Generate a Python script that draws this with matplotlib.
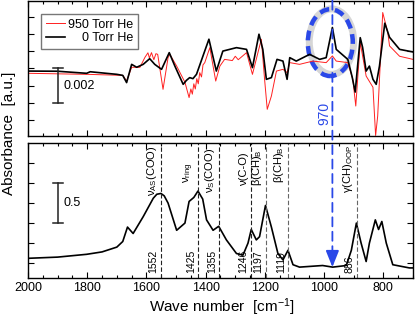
import matplotlib
matplotlib.use('Agg')
import matplotlib.pyplot as plt
from matplotlib.patches import Ellipse, ConnectionPatch
from matplotlib.ticker import MultipleLocator, FixedLocator

# top panel: difference spectra (units of 1e-3 absorbance)
wn_black = [2000, 1900, 1802, 1790, 1700, 1680, 1667, 1650, 1633, 1611, 1589, 1572,
            1549, 1523, 1504, 1476, 1465, 1454, 1443, 1431, 1409, 1389, 1364, 1342,
            1296, 1262, 1242, 1220, 1207, 1195, 1178, 1159, 1139, 1125, 1116, 1094,
            1049, 1015, 993, 972, 959, 920, 905, 895, 878, 870, 858, 847, 835, 824,
            813, 795, 779, 745, 700]
ab_black = [-0.16, -0.17, -0.29, -0.2, -0.35, -0.41, -0.83, 0.23, 0.06, 0.23, 0.56, 0.23,
            -0.06, 0.91, 0.13, -0.93, -0.7, -0.54, -0.6, -0.35, 0.72, 1.69, -0.16, 1.0,
            1.2, 1.1, 0.04, 1.98, 1.1, -0.64, -0.54, 0.52, 0.42, -0.64, 0.62, 0.42,
            0.81, 0.52, 0.62, 2.37, 1.1, 0.52, -0.52, -1.38, 1.78, 1.22, -0.16, 0.13, -0.64, -0.93,
            0.13, 2.62, 1.8, 1.1, 0.95]

wn_red = [2000, 1900, 1800, 1680, 1667, 1650, 1622, 1605, 1595, 1590, 1583, 1575, 1568,
          1562, 1544, 1527, 1521, 1498, 1470, 1456, 1450, 1445, 1440, 1435, 1430, 1425,
          1420, 1414, 1409, 1403, 1386, 1366, 1352, 1336, 1310, 1300, 1290, 1262, 1242,
          1212, 1201, 1192, 1178, 1161, 1139, 1125, 1116, 1083, 1038, 993, 972, 959,
          920, 903, 893, 878, 858, 835, 826, 819, 802, 785, 779, 745, 700]
ab_red = [-0.29, -0.32, -0.35, -0.41, -0.74, 0.06, 0.06, 0.64, 0.9, 0.6, 0.91, 0.5, 0.85,
          0.81, -1.22, 0.62, 0.81, 0.13, -0.81, -1.7, -1.2, -1.5, -0.9, -1.2, -0.6, -0.9,
          -0.25, -0.5, 0.2, 0.33, 1.2, -0.74, 0.13, 0.52, 0.45, 0.7, 0.5, 0.91, -0.35,
          1.69, -0.64, -2.38, -1.61, -0.16, -0.06, -0.25, 0.33, 0.23, 0.42, 0.33, 0.72, 0.42,
          0.33, -0.64, -2.19, 1.5, -0.45, -1.1, -3.9, -2.77, 3.24, 2.09, 1.3, 0.7, 0.52]

# bottom panel: absorbance spectrum
wn_abs = [2000, 1900, 1802, 1750, 1700, 1680, 1664, 1645, 1611, 1577, 1565, 1551, 1540,
          1527, 1498, 1470, 1456, 1440, 1426, 1410, 1397, 1375, 1356, 1330, 1296, 1274,
          1257, 1246, 1229, 1218, 1198, 1178, 1156, 1139, 1122, 1105, 1083, 1005, 971,
          925, 908, 891, 875, 858, 847, 827, 816, 805, 790, 768, 712, 700]
ab_abs = [0.06, 0.075, 0.11, 0.14, 0.2, 0.27, 0.45, 0.37, 0.58, 0.81, 0.86, 0.87, 0.84,
          0.75, 0.41, 0.5, 0.77, 0.82, 0.9, 0.8, 0.54, 0.41, 0.46, 0.29, 0.12, 0.1,
          0.25, 0.42, 0.29, 0.33, 0.72, 0.45, 0.12, 0.04, 0.16, -0.02, -0.05, -0.03, -0.05,
          -0.03, 0.16, 0.5, 0.25, 0.02, 0.25, 0.54, 0.42, 0.52, 0.25, -0.02, -0.06, -0.06]

peak_pos = [1552, 1425, 1355, 1248, 1197, 1121, 889]
peak_txt = ['1552', '1425', '1355', '1246', '1197', '1119', '886']
peak_col = ['#222222', '#222222', '#222222', '#222222', '#666666', '#666666', '#666666']
mode_txt = ['ν$_\\mathregular{AS}$(COO)', 'ν$_\\mathregular{ring}$', 'ν$_\\mathregular{S}$(COO)',
            'ν(C-O)', 'β(CH)$_\\mathregular{B}$', 'β(CH)$_\\mathregular{B}$',
            'γ(CH)$_\\mathregular{OOP}$']
mode_y = [0.606, 0.70, 0.63, 0.68, 0.68, 0.70, 0.63]

plt.rcParams['font.family'] = ['Liberation Sans', 'DejaVu Sans']
plt.rcParams['mathtext.fontset'] = 'custom'
plt.rcParams['mathtext.rm'] = 'Liberation Sans'
plt.rcParams['mathtext.it'] = 'Liberation Sans:italic'

blue = '#2a48e8'
fig = plt.figure(figsize=(4.15, 3.19), dpi=100)
ax1 = fig.add_axes([0.0675, 0.5737, 0.9275, 0.4243])
ax2 = fig.add_axes([0.0675, 0.130, 0.9275, 0.4217])

ax1.plot(wn_red, ab_red, color='#ff2020', lw=0.7, label='950 Torr He')
ax1.plot(wn_black, ab_black, color='black', lw=1.2, label='0 Torr He')
ax2.plot(wn_abs, ab_abs, color='black', lw=1.2)

for ax in (ax1, ax2):
    ax.set_xlim(2000, 700)
    ax.xaxis.set_major_locator(MultipleLocator(200))
    ax.xaxis.set_minor_locator(MultipleLocator(50))
    ax.tick_params(which='both', direction='in', top=True, right=True, labelleft=False)
    ax.tick_params(which='major', length=4.5, width=0.8)
    ax.tick_params(which='minor', length=2.5, width=0.8)
    for s in ax.spines.values():
        s.set_linewidth(1.0)

ax1.set_ylim(-3.93, 3.93)
ax1.yaxis.set_major_locator(FixedLocator([-3, -2, -1, 0, 1, 2, 3]))
ax1.tick_params(labelbottom=False)
ax2.set_ylim(-0.18, 1.5)
ax2.yaxis.set_major_locator(FixedLocator([0, 0.25, 0.5, 0.75, 1.0, 1.25]))
ax2.tick_params(labelsize=9)

# scale bars
ax1.plot([1899, 1899], [0, -2], color='#222222', lw=1.1)
ax1.plot([1916, 1882], [0, 0], color='#222222', lw=1.1)
ax1.plot([1916, 1882], [-2, -2], color='#222222', lw=1.1)
ax1.text(1879, -1, '0.002', fontsize=9, va='center', ha='left')
ax2.plot([1899, 1899], [0.5, 1.0], color='#222222', lw=1.1)
ax2.plot([1916, 1882], [0.5, 0.5], color='#222222', lw=1.1)
ax2.plot([1916, 1882], [1.0, 1.0], color='#222222', lw=1.1)
ax2.text(1879, 0.75, '0.5', fontsize=9, va='center', ha='left')

leg = ax1.legend(loc='upper left', bbox_to_anchor=(0.035, 0.9), fontsize=9,
                 fancybox=False, edgecolor='#777777', framealpha=1, borderaxespad=0,
                 handlelength=1.5, handletextpad=0.3, borderpad=0.35, labelspacing=0.15)
leg.get_frame().set_linewidth(1.0)
fig.canvas.draw()
r = fig.canvas.get_renderer()
widths = [t.get_window_extent(r).width for t in leg.get_texts()]
for t, wi in zip(leg.get_texts(), widths):
    t.set_position((max(widths) - wi, 0))

# highlight at 970
ax1.add_patch(Ellipse((975, 1.55), 150, 3.8, fill=False, ec='#bbbbbb', lw=5, alpha=0.6))
ax1.add_patch(Ellipse((979, 1.49), 152, 3.88, fill=False, ec=blue, lw=3.2,
                      linestyle=(0, (2.2, 1.3))))
ax1.text(998, -2.6, '970', color=blue, fontsize=10, rotation=90, ha='center', va='center')
con = ConnectionPatch(xyA=(972, 3.93), coordsA=ax1.transData, xyB=(972, 0.12),
                      coordsB=ax2.transData, color=blue, lw=1.3, linestyle=(0, (5, 3)))
fig.add_artist(con)
ax2.annotate('', xy=(972, -0.05), xytext=(972, 0.14),
             arrowprops=dict(arrowstyle='-|>,head_length=1.0,head_width=0.4',
                             color=blue, lw=1.3, shrinkA=0, shrinkB=0))

# peak markers
for p, t, c, m, my in zip(peak_pos, peak_txt, peak_col, mode_txt, mode_y):
    ax2.axvline(p, color=c, lw=0.8, linestyle=(0, (4, 2)))
    ax2.annotate(t, xy=(p, 0), xycoords=('data', 'axes fraction'), xytext=(-1.5, 3),
                 textcoords='offset points', rotation=90, ha='right', va='bottom', fontsize=7.5)
    ax2.annotate(m, xy=(p, my), xycoords=('data', 'axes fraction'), xytext=(-1.5, 0),
                 textcoords='offset points', rotation=90, ha='right', va='bottom', fontsize=8,
                 annotation_clip=False)

ax2.set_xticks([2000, 1800, 1600, 1400, 1200, 1000, 800])
fig.text(0.534, 0.036, 'Wave number  [cm$^{-1}$]', fontsize=11, ha='center', va='center')
fig.text(0.022, 0.583, 'Absorbance  [a.u.]', fontsize=11, rotation=90, ha='center', va='center')

fig.savefig('out.png', dpi=100)
